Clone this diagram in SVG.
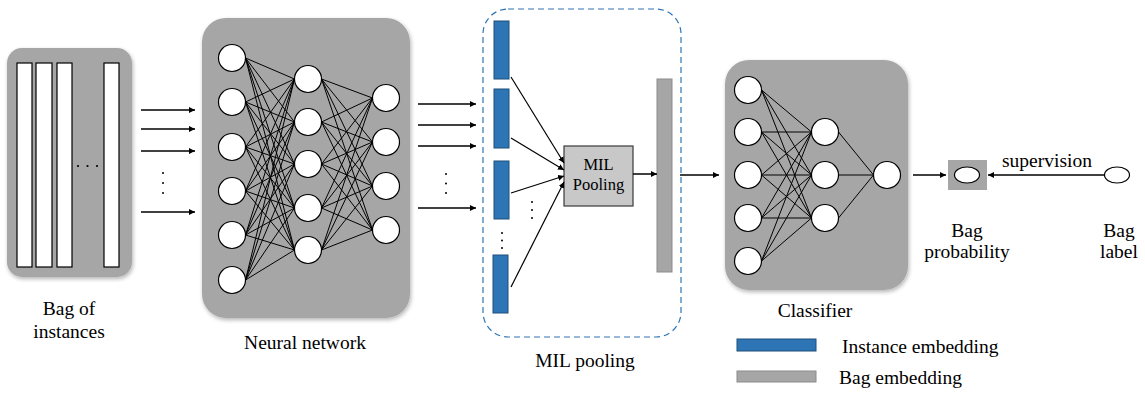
<svg xmlns="http://www.w3.org/2000/svg" width="1145" height="396" viewBox="0 0 1145 396">
  <style>
    .panel { fill: #a6a6a6; filter: url(#soft); }
    .bar { fill: #ffffff; stroke: #000000; stroke-width: 1.2; }
    .node { fill: #ffffff; stroke: #000000; stroke-width: 1.2; }
    .wire { fill: none; stroke: #000000; stroke-width: 1; }
    .arrow { fill: none; stroke: #000000; stroke-width: 1.5; marker-end: url(#head); }
    .emb { fill: #2e75b6; stroke: #1f4e79; stroke-width: 1; }
    .bagemb { fill: #a6a6a6; stroke: #8c8c8c; stroke-width: 1; }
    .dot { fill: #000000; }
    text { font-family: 'Liberation Serif', 'Times New Roman', Times, Tinos, 'Nimbus Roman', 'Nimbus Roman No9 L', FreeSerif, 'Noto Serif', 'DejaVu Serif', serif; font-size: 19.5px; fill: #000000; }
    .mid { text-anchor: middle; }
    .small { font-size: 16.5px; }
  </style>
  <defs>
    <marker id="head" viewBox="0 0 6 6" refX="6" refY="3" markerWidth="6" markerHeight="6" markerUnits="userSpaceOnUse" orient="auto">
      <path d="M0,0 L6,3 L0,6 z" fill="#000000"/>
    </marker>
    <filter id="soft" x="-10%" y="-10%" width="120%" height="120%">
      <feGaussianBlur in="SourceAlpha" stdDeviation="2"/>
      <feOffset dx="1" dy="2" result="blur"/>
      <feComponentTransfer><feFuncA type="linear" slope="0.3"/></feComponentTransfer>
      <feMerge><feMergeNode/><feMergeNode in="SourceGraphic"/></feMerge>
    </filter>
  </defs>

  <!-- Bag of instances -->
  <g id="bag-of-instances">
    <rect class="panel" x="7" y="48" width="125" height="229" rx="15"/>
    <rect class="bar" x="17" y="63" width="15" height="204"/>
    <rect class="bar" x="36" y="63" width="16" height="204"/>
    <rect class="bar" x="57" y="63" width="15" height="204"/>
    <rect class="bar" x="104" y="63" width="15" height="204"/>
    <circle class="dot" cx="78" cy="166" r="1.1"/>
    <circle class="dot" cx="87.5" cy="166" r="1.1"/>
    <circle class="dot" cx="97" cy="166" r="1.1"/>
    <text class="mid" x="69" y="315">Bag of</text>
    <text class="mid" x="69" y="338">instances</text>
  </g>

  <!-- Neural network -->
  <g id="neural-network">
    <rect class="panel" x="202" y="18" width="208" height="300" rx="24"/>
    <path class="wire" d="M245.5 58L294.5 79M245.5 58L294.5 122M245.5 58L294.5 164M245.5 58L294.5 208M245.5 58L294.5 250
      M245.5 102L294.5 79M245.5 102L294.5 122M245.5 102L294.5 164M245.5 102L294.5 208M245.5 102L294.5 250
      M245.5 147L294.5 79M245.5 147L294.5 122M245.5 147L294.5 164M245.5 147L294.5 208M245.5 147L294.5 250
      M245.5 191L294.5 79M245.5 191L294.5 122M245.5 191L294.5 164M245.5 191L294.5 208M245.5 191L294.5 250
      M245.5 235L294.5 79M245.5 235L294.5 122M245.5 235L294.5 164M245.5 235L294.5 208M245.5 235L294.5 250
      M245.5 280L294.5 79M245.5 280L294.5 122M245.5 280L294.5 164M245.5 280L294.5 208M245.5 280L294.5 250
      M321.5 79L372.5 98M321.5 79L372.5 142M321.5 79L372.5 186M321.5 79L372.5 230
      M321.5 122L372.5 98M321.5 122L372.5 142M321.5 122L372.5 186M321.5 122L372.5 230
      M321.5 164L372.5 98M321.5 164L372.5 142M321.5 164L372.5 186M321.5 164L372.5 230
      M321.5 208L372.5 98M321.5 208L372.5 142M321.5 208L372.5 186M321.5 208L372.5 230
      M321.5 250L372.5 98M321.5 250L372.5 142M321.5 250L372.5 186M321.5 250L372.5 230"/>
    <circle class="node" cx="232" cy="58" r="13.5"/>
    <circle class="node" cx="232" cy="102" r="13.5"/>
    <circle class="node" cx="232" cy="147" r="13.5"/>
    <circle class="node" cx="232" cy="191" r="13.5"/>
    <circle class="node" cx="232" cy="235" r="13.5"/>
    <circle class="node" cx="232" cy="280" r="13.5"/>
    <circle class="node" cx="308" cy="79" r="13.5"/>
    <circle class="node" cx="308" cy="122" r="13.5"/>
    <circle class="node" cx="308" cy="164" r="13.5"/>
    <circle class="node" cx="308" cy="208" r="13.5"/>
    <circle class="node" cx="308" cy="250" r="13.5"/>
    <circle class="node" cx="386" cy="98" r="13.5"/>
    <circle class="node" cx="386" cy="142" r="13.5"/>
    <circle class="node" cx="386" cy="186" r="13.5"/>
    <circle class="node" cx="386" cy="230" r="13.5"/>
    <text class="mid" x="305" y="349">Neural network</text>
  </g>

  <!-- MIL pooling stage -->
  <g id="mil-pooling">
    <rect x="483" y="9" width="198" height="328" rx="25" fill="none" stroke="#2e75b6" stroke-width="1.2" stroke-dasharray="6 4"/>
    <rect class="emb" x="494" y="21" width="15" height="58"/>
    <rect class="emb" x="494" y="89" width="15" height="59"/>
    <rect class="emb" x="494" y="161" width="15" height="58"/>
    <rect class="emb" x="493" y="255" width="15" height="58"/>
    <circle class="dot" cx="502" cy="233" r="1"/>
    <circle class="dot" cx="502" cy="240.5" r="1"/>
    <circle class="dot" cx="502" cy="248" r="1"/>
    <circle class="dot" cx="532" cy="202" r="1"/>
    <circle class="dot" cx="532" cy="210" r="1"/>
    <circle class="dot" cx="532" cy="218" r="1"/>
    <rect x="564" y="146" width="69" height="60" fill="#c8c8c8" stroke="#3a3a3a" stroke-width="1.2"/>
    <text class="mid small" x="598.5" y="170">MIL</text>
    <text class="mid small" x="598.5" y="190">Pooling</text>
    <rect class="bagemb" x="657" y="79" width="15" height="193"/>
    <text class="mid" x="585" y="367">MIL pooling</text>
  </g>

  <!-- Classifier -->
  <g id="classifier">
    <rect class="panel" x="725" y="60" width="183" height="230" rx="24"/>
    <path class="wire" d="M761.5 90L811.5 132M761.5 90L811.5 175M761.5 90L811.5 218
      M761.5 132L811.5 132M761.5 132L811.5 175M761.5 132L811.5 218
      M761.5 175L811.5 132M761.5 175L811.5 175M761.5 175L811.5 218
      M761.5 218L811.5 132M761.5 218L811.5 175M761.5 218L811.5 218
      M761.5 261L811.5 132M761.5 261L811.5 175M761.5 261L811.5 218
      M838.5 132L873.5 175M838.5 175L873.5 175M838.5 218L873.5 175"/>
    <circle class="node" cx="748" cy="90" r="13.5"/>
    <circle class="node" cx="748" cy="132" r="13.5"/>
    <circle class="node" cx="748" cy="175" r="13.5"/>
    <circle class="node" cx="748" cy="218" r="13.5"/>
    <circle class="node" cx="748" cy="261" r="13.5"/>
    <circle class="node" cx="825" cy="132" r="13.5"/>
    <circle class="node" cx="825" cy="175" r="13.5"/>
    <circle class="node" cx="825" cy="218" r="13.5"/>
    <circle class="node" cx="887" cy="175" r="13.5"/>
    <text class="mid" x="815" y="317">Classifier</text>
  </g>

  <!-- Bag probability -->
  <g id="bag-probability">
    <rect x="948" y="160" width="39" height="30" fill="#a6a6a6"/>
    <ellipse class="node" cx="967" cy="175" rx="12.5" ry="8"/>
    <text class="mid" x="967" y="237">Bag</text>
    <text class="mid" x="967" y="258">probability</text>
  </g>

  <!-- Bag label -->
  <g id="bag-label">
    <ellipse class="node" cx="1117" cy="175" rx="12.5" ry="8"/>
    <text class="mid" x="1119" y="237">Bag</text>
    <text class="mid" x="1119" y="258">label</text>
  </g>

  <!-- Legend -->
  <g id="legend">
    <rect class="emb" x="737" y="339" width="79" height="12"/>
    <text x="842" y="353">Instance embedding</text>
    <rect class="bagemb" x="737" y="371" width="79" height="11"/>
    <text x="839" y="384">Bag embedding</text>
  </g>

  <!-- Connectors -->
  <g id="connectors">
    <line class="arrow" x1="141" y1="110" x2="195" y2="110"/>
    <line class="arrow" x1="141" y1="129" x2="195" y2="129"/>
    <line class="arrow" x1="141" y1="151" x2="195" y2="151"/>
    <line class="arrow" x1="141" y1="212" x2="195" y2="212"/>
    <circle class="dot" cx="163" cy="173" r="1"/>
    <circle class="dot" cx="163" cy="183" r="1"/>
    <circle class="dot" cx="163" cy="193" r="1"/>

    <line class="arrow" x1="418" y1="104" x2="476" y2="104"/>
    <line class="arrow" x1="418" y1="125" x2="476" y2="125"/>
    <line class="arrow" x1="418" y1="146" x2="476" y2="146"/>
    <line class="arrow" x1="418" y1="208" x2="476" y2="208"/>
    <circle class="dot" cx="446" cy="174" r="1"/>
    <circle class="dot" cx="446" cy="183.5" r="1"/>
    <circle class="dot" cx="446" cy="193" r="1"/>

    <line class="arrow" x1="511" y1="77" x2="564" y2="163" style="stroke-width:1.2"/>
    <line class="arrow" x1="511" y1="138" x2="564" y2="170" style="stroke-width:1.2"/>
    <line class="arrow" x1="511" y1="193" x2="564" y2="176" style="stroke-width:1.2"/>
    <line class="arrow" x1="511" y1="287" x2="564" y2="182" style="stroke-width:1.2"/>

    <line class="arrow" x1="633" y1="174" x2="657" y2="174"/>
    <line class="arrow" x1="680" y1="175" x2="719" y2="175"/>
    <line class="arrow" x1="913" y1="175" x2="946" y2="175"/>
    <line class="arrow" x1="1104" y1="175" x2="988" y2="175"/>
    <text class="mid" x="1047" y="167">supervision</text>
  </g>
</svg>
